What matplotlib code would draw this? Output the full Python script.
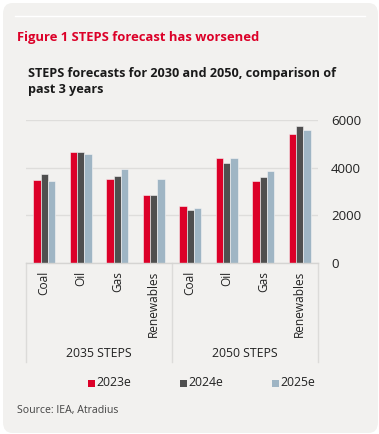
import matplotlib
matplotlib.use("Agg")
import matplotlib.pyplot as plt
from matplotlib.patches import FancyBboxPatch, Rectangle
from matplotlib.lines import Line2D
import matplotlib.transforms as mtransforms
import numpy as np

plt.rcParams['font.family'] = ['Open Sans', 'DejaVu Sans']

categories = ["Coal", "Oil", "Gas", "Renewables", "Coal", "Oil", "Gas", "Renewables"]
groups = ["2035 STEPS", "2050 STEPS"]
series_names = ["2023e", "2024e", "2025e"]
v2023 = [3500, 4640, 3540, 2860, 2400, 4420, 3440, 5410]
v2024 = [3720, 4670, 3650, 2860, 2220, 4180, 3600, 5745]
v2025 = [3430, 4570, 3930, 3530, 2290, 4390, 3850, 5565]
yticks = [0, 2000, 4000, 6000]

colors = ["#dc0028", "#4f4f4f", "#9fb5c4"]
bg = "#f2f1ef"
W, H = 379, 434

fig = plt.figure(figsize=(W / 100, H / 100), dpi=100, facecolor="white")

def fx(px):
    return px / W

def fy(py):
    return 1 - py / H

# card background
card = FancyBboxPatch((fx(3), fy(433)), fx(375), 430 / H,
                      boxstyle="round,pad=0,rounding_size=0.025",
                      transform=fig.transFigure, facecolor=bg, edgecolor="none", zorder=-10)
fig.patches.append(card)
fig.lines.append(Line2D([fx(15), fx(365)], [fy(16), fy(16)], transform=fig.transFigure,
                        color="white", lw=1.0, zorder=-5))

fig.text(fx(17), fy(38), "Figure 1 STEPS forecast has worsened", color="#dc0028",
         fontsize=9.4, fontweight="bold", va="center", ha="left")
fig.text(fx(28), fy(73), "STEPS forecasts for 2030 and 2050, comparison of",
         color="#1a1a1a", fontsize=9.1, fontweight="bold", va="center", ha="left")
fig.text(fx(28), fy(90), "past 3 years",
         color="#1a1a1a", fontsize=9.1, fontweight="bold", va="center", ha="left")

ax = fig.add_axes([fx(26), fy(263), fx(318) - fx(26), (263 - 120) / H])
ax.set_facecolor("none")
x = np.arange(len(categories))
bw = 0.197
for i, (vals, c) in enumerate(zip([v2023, v2024, v2025], colors)):
    ax.bar(x + (i - 1) * bw, vals, width=bw, color=c, edgecolor="#f5f5f5",
           linewidth=0.4, zorder=3)

ax.set_xlim(-0.5, len(categories) - 0.5)
ax.set_ylim(0, 6000)
ax.yaxis.tick_right()
ax.set_yticks(yticks)
ax.set_yticklabels([str(v) for v in yticks])
ax.tick_params(axis="y", length=0, pad=9.4, labelsize=9.5, labelcolor="#222222")
ax.set_xticks([])
ax.grid(axis="y", color="#dedddb", lw=1.0, zorder=0)
for s in ax.spines.values():
    s.set_visible(False)
ax.axhline(0, color="#d5d4d2", lw=1.0, zorder=4, clip_on=False)

trans = mtransforms.blended_transform_factory(ax.transData, ax.transAxes)
ah = (263 - 120)
def ay(py):
    return (263 - py) / ah

for xi, lab in zip(x, categories):
    ax.text(xi, ay(271), lab, rotation=90, ha="center", va="top", fontsize=8.6,
            color="#222222", transform=trans)

for xb in [-0.5, 3.5, 7.5]:
    ax.add_line(Line2D([xb, xb], [0, ay(362)], transform=trans, color="#dcdbd9",
                       lw=1.0, clip_on=False))
for gi, g in enumerate(groups):
    ax.text(gi * 4 + 1.5, ay(353), g, ha="center", va="center", fontsize=8.8,
            color="#222222", transform=trans)

# legend
leg_x = [91.5, 183, 275.5]
for lx, name, c in zip(leg_x, series_names, colors):
    fig.patches.append(Rectangle((fx(lx - 3.5), fy(386.5)), fx(7), 7 / H,
                                 transform=fig.transFigure, facecolor=c, edgecolor="none"))
    fig.text(fx(lx + 5), fy(383), name, ha="left", va="center", fontsize=8.8,
             color="#222222")

fig.text(fx(17), fy(411), "Source: IEA, Atradius", ha="left", va="center",
         fontsize=7.6, color="#444444")

fig.savefig("out.png", dpi=100, facecolor="white")
